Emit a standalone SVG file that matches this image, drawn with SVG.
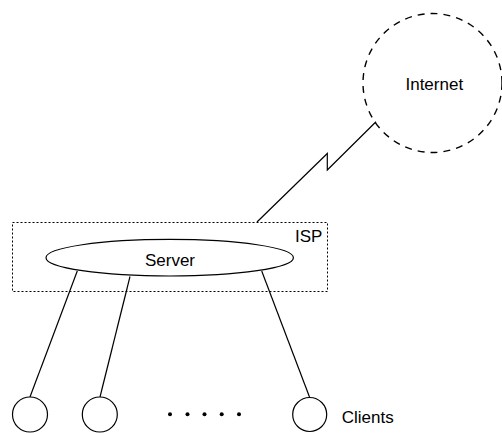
<svg xmlns="http://www.w3.org/2000/svg" width="502" height="433" viewBox="0 0 502 433">
  <style>
    .line { fill: none; stroke: #000; stroke-width: 1.2; }
    .shape { fill: #fff; stroke: #000; stroke-width: 1.2; }
    .label { font-family: "Liberation Sans", Arial, sans-serif; font-size: 17px; fill: #000; }
    .mid { text-anchor: middle; }
  </style>
  <rect width="502" height="433" fill="#fff"/>

  <!-- ISP boundary -->
  <g id="isp">
    <rect x="12.5" y="222.5" width="315" height="69" fill="none" stroke="#000" stroke-width="1" stroke-dasharray="2,2"/>
    <text class="label" x="295" y="242">ISP</text>
  </g>

  <!-- connectors -->
  <g id="connectors">
    <polyline class="line" points="257,222 327.3,153.5 327.3,170 376,121.7"/>
    <line class="line" x1="77.3" y1="271" x2="30" y2="397"/>
    <line class="line" x1="130" y1="276.5" x2="100" y2="397"/>
    <line class="line" x1="261.7" y1="271" x2="309.5" y2="397"/>
  </g>

  <g id="internet">
    <circle cx="432.5" cy="83" r="69.5" fill="none" stroke="#000" stroke-width="1.4" stroke-dasharray="7,6"/>
    <text class="label mid" x="434.3" y="90">Internet</text>
  </g>

  <g id="server">
    <ellipse class="shape" cx="169.7" cy="257.7" rx="123.7" ry="18.3"/>
    <text class="label mid" x="170" y="265.5">Server</text>
  </g>

  <g id="client1">
    <circle class="shape" cx="30" cy="414.5" r="17.5"/>
  </g>
  <g id="client2">
    <circle class="shape" cx="99.8" cy="414.5" r="17.5"/>
  </g>
  <g id="ellipsis">
    <circle cx="170" cy="414.3" r="2"/>
    <circle cx="187.5" cy="414.3" r="2"/>
    <circle cx="204.5" cy="414.3" r="2"/>
    <circle cx="221.7" cy="414.3" r="2"/>
    <circle cx="239" cy="414.3" r="2"/>
  </g>
  <g id="client3">
    <circle class="shape" cx="309.7" cy="414.5" r="17"/>
    <text class="label" x="341.7" y="422.7">Clients</text>
  </g>
</svg>
